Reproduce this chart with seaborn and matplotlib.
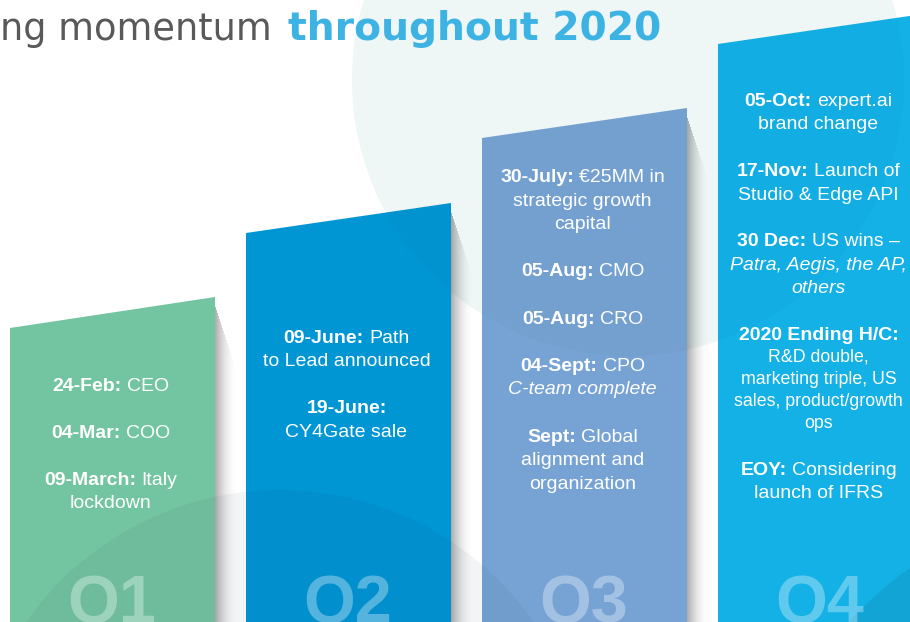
import matplotlib
matplotlib.use('Agg')
import matplotlib.pyplot as plt
import matplotlib.transforms as mtransforms
from matplotlib.patches import Ellipse
import seaborn as sns
import pandas as pd

# ---------------- data ----------------
quarters = ['Q1', 'Q2', 'Q3', 'Q4']
top_left = [294, 389, 484, 578]      # bar height at left edge (px from bottom)
top_right = [325, 419, 514, 608]     # bar height at right edge
bar_colors = ['#73c4a0', '#0096d4', '#77a3d4', '#13b1e6']

# '**x**' = bold prefix, '_x_' = italic line, '~' = smaller line
q1_events = ['**24-Feb:** CEO', '', '**04-Mar:** COO', '',
             '**09-March:** Italy', 'lockdown']
q2_events = ['**09-June:** Path', 'to Lead announced', '',
             '**19-June:**', 'CY4Gate sale']
q3_events = ['**30-July:** €25MM in', 'strategic growth', 'capital', '',
             '**05-Aug:** CMO', '', '**05-Aug:** CRO', '',
             '**04-Sept:** CPO', '_C-team complete_', '',
             '**Sept:** Global', 'alignment and', 'organization']
q4_events = ['**05-Oct:** expert.ai', 'brand change', '',
             '**17-Nov:** Launch of', 'Studio & Edge API', '',
             '**30 Dec:** US wins –', '_Patra, Aegis, the AP,_', '_others_', '',
             '**2020 Ending H/C:**', '~R&D double,', '~marketing triple, US',
             '~sales, product/growth', '~ops', '',
             '**EOY:** Considering', 'launch of IFRS']
events = [q1_events, q2_events, q3_events, q4_events]
text_first_line = [384, 336, 175, 99]   # px from top, centre of first line
text_line_step = [23.4, 23.4, 23.6, 23.4]

title_grey = 'ng momentum'
title_blue = 'throughout 2020'

# ---------------- layout ----------------
W, H = 910, 622
STEP = 236.0          # px between bar centres
FIRST = 112.5         # px of first bar centre
BAR_W = 205 / STEP

fig = plt.figure(figsize=(W / 100, H / 100), dpi=100)
fig.patch.set_facecolor('white')
ax = fig.add_axes([0, 0, 1, 1])

df = pd.DataFrame({'quarter': quarters, 'height': top_left})
sns.barplot(data=df, x='quarter', y='height', hue='quarter',
            palette=bar_colors, saturation=1, width=BAR_W, legend=False,
            linewidth=0, ax=ax, zorder=2)

ax.set_xlim(-FIRST / STEP, (W - FIRST) / STEP)
ax.set_ylim(0, H)
ax.set_axis_off()

def circ(cx_px, cy_px, r_px, **kw):
    return Ellipse(((cx_px - FIRST) / STEP, H - cy_px),
                   2 * r_px / STEP, 2 * r_px, **kw)

# pale mint circle behind the bars
ax.add_patch(circ(628, 80, 276, facecolor='#f4fbfa', edgecolor='none', zorder=0.5))

# slanted caps + shadows
for i, (tl, tr, col) in enumerate(zip(top_left, top_right, bar_colors)):
    l, r = i - BAR_W / 2, i + BAR_W / 2
    ax.fill([l, r, r, l], [tl - 1, tl - 1, tr, tl], color=col, lw=0, zorder=2)
    n = 22
    for k in range(n):
        a = 0.36 * (1 - k / n) ** 2
        top = tr - 10 - k * 3.0
        ax.fill_between([r + k / STEP, r + (k + 1) / STEP], 0, top,
                        color='#202020', alpha=a, lw=0, zorder=1.5)

# translucent overlays
ax.add_patch(circ(628, 80, 276, facecolor='#003050', alpha=0.022,
                  edgecolor='none', zorder=3))
ax.add_patch(circ(280, 800, 310, facecolor='#1a3a5a', alpha=0.055,
                  edgecolor='none', zorder=3))
ax.add_patch(circ(1150, 900, 410, facecolor='#000000', alpha=0.07,
                  edgecolor='none', zorder=3))

# ---------------- texts ----------------
fig.canvas.draw()
renderer = fig.canvas.get_renderer()
ident = mtransforms.IdentityTransform()
FS = 14
FS_SMALL = 12.8
SMALL_STEP = 22.0

def parse(line):
    size = FS
    if line.startswith('~'):
        size = FS_SMALL
        line = line[1:]
    if line.startswith('**'):
        rest = line[2:]
        b, _, reg = rest.partition('**')
        segs = [(b, 'b')]
        if reg.strip():
            segs.append((reg.strip(), 'r'))
        return segs, size
    if line.startswith('_') and line.endswith('_'):
        return [(line[1:-1], 'i')], size
    return [(line, 'r')], size

def draw_line(xc, y_base, segs, size):
    space = 0.278 * size * 100 / 72
    objs = []
    for txt, st in segs:
        t = fig.text(0, 0, txt, fontsize=size, color='white',
                     family='Liberation Sans',
                     fontweight='bold' if st == 'b' else 'normal',
                     fontstyle='italic' if st == 'i' else 'normal',
                     transform=ident, ha='left', va='baseline', zorder=10)
        objs.append(t)
    widths = [t.get_window_extent(renderer).width for t in objs]
    total = sum(widths) + space * (len(objs) - 1)
    x = xc - total / 2
    for t, w in zip(objs, widths):
        t.set_position((x, y_base))
        x += w + space

for i, lines in enumerate(events):
    xc = ax.transData.transform((i, 0))[0]
    y_center = text_first_line[i]
    for j, line in enumerate(lines):
        if j > 0:
            y_center += SMALL_STEP if line.startswith('~') else text_line_step[i]
        if not line:
            continue
        segs, size = parse(line)
        draw_line(xc - 2, H - (y_center + 7), segs, size)
    # big quarter label
    fig.text(xc - 1, H - 622, quarters[i], fontsize=48, fontweight='bold',
             family='Liberation Sans', color='white', alpha=0.33,
             transform=ident, ha='center', va='baseline', zorder=9)

# title
fig.text(0.5, H - 40, title_grey, fontsize=26.5, color='#595959',
         family='DejaVu Sans', transform=ident, ha='left', va='baseline')
fig.text(288, H - 40, title_blue, fontsize=28.3, color='#3db3e3',
         fontweight='bold', family='DejaVu Sans', transform=ident,
         ha='left', va='baseline')

fig.savefig('out.png', dpi=100, facecolor='white')
